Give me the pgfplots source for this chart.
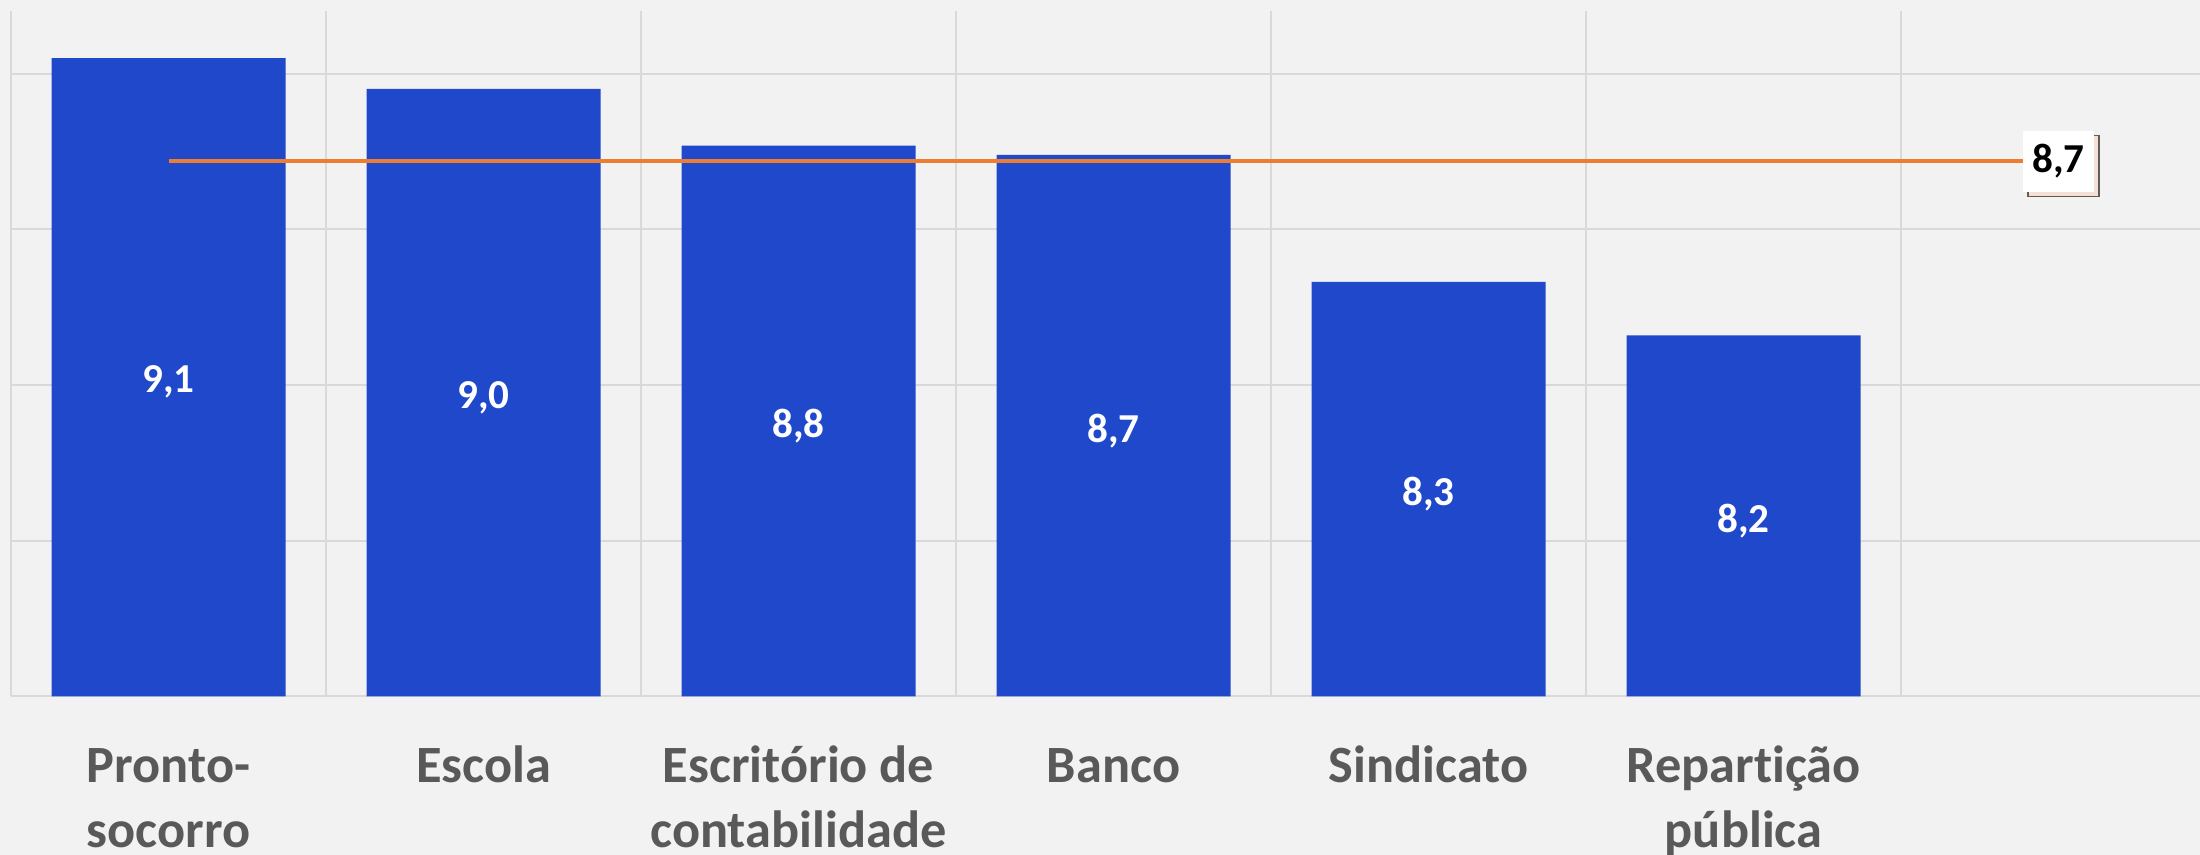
\documentclass[border=0pt]{standalone}
\usepackage{fontspec}
\setmainfont{Carlito}[Ligatures=NoCommon]
\usepackage{pgfplots}
\pgfplotsset{compat=1.18}
\usetikzlibrary{shadows}
\definecolor{bg}{HTML}{F2F2F2}
\definecolor{barblue}{RGB}{31,73,202}
\definecolor{lineorange}{HTML}{ED7D31}
\definecolor{gridgray}{HTML}{D9D9D9}
\definecolor{labgray}{HTML}{595959}
\definecolor{shadoworange}{HTML}{F6D5C0}
\pgfplotstableread{
x y
0 9.050
1 8.951
2 8.769
3 8.739
4 8.331
5 8.159
}\bars
\pgfplotstableread{
x y lab
0 8.025 {9,1}
1 7.9755 {9,0}
2 7.8845 {8,8}
3 7.8695 {8,7}
4 7.6655 {8,3}
5 7.5795 {8,2}
}\barlabels
\pgfplotstableread{
x y
0 8.719
6 8.719
}\avgline
\pgfplotstableread{
x y lab
6 8.719 {8,7}
}\avglabel
\begin{document}
\begin{tikzpicture}
\useasboundingbox (0,0) rectangle (22cm,8.55cm);
\clip (0,0) rectangle (22cm,8.55cm);
\fill[bg] (0,0) rectangle (22cm,8.55cm);
\begin{axis}[
  at={(0.11cm,1.587cm)}, anchor=south west,
  width=21.89cm, height=6.849cm, scale only axis,
  xmin=-0.5, xmax=6.449, ymin=7, ymax=9.2,
  axis line style={draw=none},
  major tick length=0pt,
  ytick={7,7.5,8,8.5,9}, yticklabels={}, ymajorgrids,
  xtick={0,1,2,3,4,5},
  xticklabels={{\strut Pronto-\\socorro},{\strut Escola},{\strut Escritório de\\contabilidade},{\strut Banco},{\strut Sindicato},{\strut Repart\kern0pt ição\\pública}},
  extra x ticks={-0.5,0.5,1.5,2.5,3.5,4.5,5.5},
  extra x tick labels={},
  extra x tick style={grid=major},
  grid style={gridgray, line width=0.02cm},
  xticklabel style={font=\fontsize{14.9pt}{18.3pt}\selectfont\bfseries, text=labgray, align=center, anchor=north, inner sep=0pt, yshift=-0.409cm},
]
\addplot[ybar, bar width=2.34cm, bar shift=0pt, fill=barblue, draw=none] table[x=x,y=y] {\bars};
\addplot[lineorange, line width=0.04cm] table[x=x,y=y] {\avgline};
\addplot[only marks, mark=none, nodes near coords, point meta=explicit symbolic,
  nodes near coords style={anchor=center, text=white, font=\fontsize{11.7pt}{14pt}\selectfont\bfseries, yshift=-0.05cm}]
  table[x=x,y=y,meta=lab] {\barlabels};
\addplot[only marks, mark=none, nodes near coords, point meta=explicit symbolic,
  nodes near coords style={anchor=center, text=black, fill=white, inner sep=0pt, minimum width=0.71cm, minimum height=0.61cm,
    font=\fontsize{11.7pt}{14pt}\selectfont\bfseries,
    drop shadow={shadow xshift=0.05cm, shadow yshift=-0.05cm, fill=shadoworange, opacity=0.6}}]
  table[x=x,y=y,meta=lab] {\avglabel};
\end{axis}
\end{tikzpicture}
\end{document}
